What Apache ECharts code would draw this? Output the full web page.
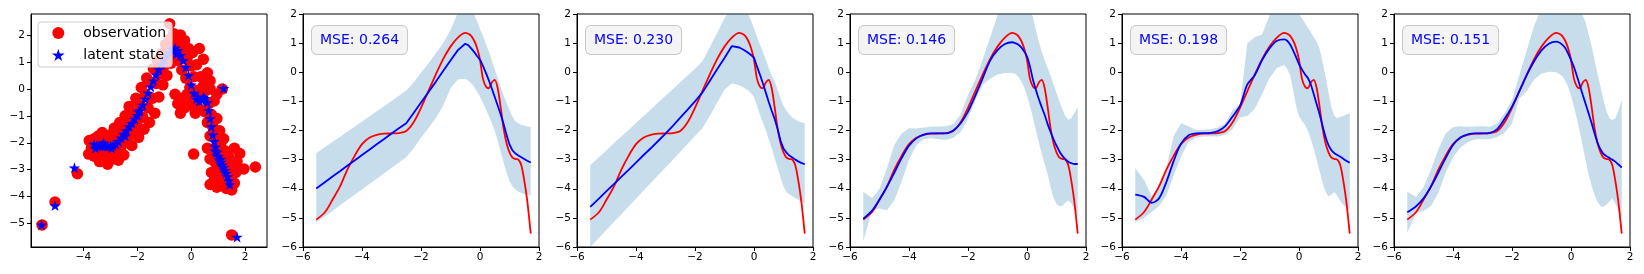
<!DOCTYPE html>
<html><head><meta charset="utf-8">
<script src="https://cdn.jsdelivr.net/npm/echarts@6/dist/echarts.min.js"></script>
<style>html,body{margin:0;padding:0;background:#fff}#c{width:1644px;height:274px}</style>
</head><body><div id="c"></div>
<script>
// ---------- DATA ----------
const xs = [-5.55,-5.25,-5.0,-4.75,-4.5,-4.25,-4.0,-3.75,-3.5,-3.25,-3.0,-2.75,-2.5,-2.25,-2.0,-1.75,-1.5,-1.25,-1.0,-0.75,-0.5,-0.4,-0.3,-0.2,-0.1,0.0,0.1,0.2,0.3,0.4,0.5,0.6,0.7,0.8,0.9,1.0,1.1,1.2,1.3,1.4,1.5,1.6,1.72];
const trueY = [-5.06,-4.80,-4.38,-3.93,-3.35,-2.87,-2.47,-2.25,-2.15,-2.11,-2.10,-2.09,-2.02,-1.72,-1.22,-0.65,-0.08,0.45,0.88,1.19,1.35,1.32,1.25,1.09,0.83,0.43,-0.22,-0.49,-0.55,-0.35,-0.26,-0.55,-1.2,-1.93,-2.44,-2.75,-2.93,-2.98,-3.0,-3.19,-3.71,-4.40,-5.54];

const meanP2 = [-3.99,-3.77,-3.58,-3.40,-3.21,-3.03,-2.84,-2.66,-2.47,-2.29,-2.10,-1.92,-1.75,-1.40,-1.04,-0.69,-0.33,0.04,0.40,0.76,0.98,0.93,0.82,0.70,0.56,0.43,0.22,-0.02,-0.28,-0.56,-0.85,-1.14,-1.44,-1.78,-2.15,-2.48,-2.68,-2.79,-2.86,-2.92,-2.98,-3.04,-3.10];
const upperP2 = [-2.78,-2.57,-2.39,-2.22,-2.04,-1.87,-1.69,-1.52,-1.34,-1.17,-0.99,-0.81,-0.63,-0.35,-0.02,0.30,0.65,1.0,1.45,2.05,2.3,2.25,2.15,2.0,1.75,1.48,1.25,0.98,0.7,0.4,0.1,-0.2,-0.5,-0.8,-1.05,-1.3,-1.53,-1.68,-1.75,-1.8,-1.83,-1.86,-1.88];
const lowerP2 = [-5.16,-4.94,-4.76,-4.57,-4.39,-4.21,-4.03,-3.84,-3.66,-3.47,-3.29,-3.10,-2.92,-2.62,-2.25,-1.92,-1.58,-1.15,-0.55,-0.25,-0.22,-0.28,-0.38,-0.5,-0.66,-0.84,-1.05,-1.28,-1.5,-1.74,-2.0,-2.35,-2.72,-3.1,-3.45,-3.74,-3.92,-4.02,-4.1,-4.15,-4.18,-4.2,-4.22];

const meanP3 = [-4.62,-4.33,-4.08,-3.84,-3.59,-3.35,-3.10,-2.85,-2.61,-2.36,-2.11,-1.84,-1.56,-1.28,-1.0,-0.70,-0.30,0.10,0.49,0.90,0.85,0.80,0.74,0.67,0.59,0.50,0.20,-0.08,-0.38,-0.70,-1.02,-1.32,-1.6,-1.95,-2.35,-2.62,-2.76,-2.86,-2.93,-3.0,-3.06,-3.11,-3.16];
const upperP3 = [-3.19,-2.91,-2.68,-2.44,-2.21,-1.98,-1.74,-1.51,-1.28,-1.04,-0.81,-0.58,-0.34,-0.11,0.12,0.38,0.85,1.35,1.85,2.2,2.3,2.25,2.15,2.0,1.78,1.5,1.22,0.95,0.7,0.45,0.15,-0.1,-0.3,-0.6,-0.9,-1.15,-1.32,-1.45,-1.55,-1.62,-1.68,-1.72,-1.75];
const lowerP3 = [-6.0,-5.68,-5.41,-5.14,-4.88,-4.61,-4.34,-4.07,-3.80,-3.54,-3.27,-3.0,-2.73,-2.46,-2.19,-1.92,-1.5,-1.05,-0.6,-0.38,-0.45,-0.5,-0.56,-0.62,-0.72,-0.85,-1.15,-1.45,-1.72,-1.98,-2.3,-2.6,-2.95,-3.28,-3.62,-3.92,-4.1,-4.2,-4.26,-4.32,-4.38,-4.44,-4.51];

const meanP4 = [-5.03,-4.75,-4.37,-3.94,-3.45,-2.95,-2.52,-2.27,-2.14,-2.1,-2.1,-2.1,-2.0,-1.75,-1.35,-0.8,-0.2,0.4,0.76,0.97,1.03,1.0,0.95,0.86,0.72,0.54,0.2,-0.25,-0.6,-0.92,-1.2,-1.47,-1.78,-2.05,-2.3,-2.52,-2.72,-2.87,-2.98,-3.07,-3.12,-3.15,-3.15];
const upperP4 = [-4.1,-4.32,-4.0,-3.3,-2.5,-2.1,-1.92,-1.93,-1.9,-1.87,-1.86,-1.85,-1.78,-1.45,-0.78,-0.25,0.45,1.2,1.95,2.35,2.4,2.45,2.45,2.45,2.4,2.3,2.15,1.9,1.45,1.05,0.7,0.4,0.15,-0.12,-0.42,-0.72,-1.0,-1.28,-1.5,-1.63,-1.58,-1.42,-1.2];
const lowerP4 = [-5.8,-4.75,-4.68,-4.74,-4.4,-3.75,-3.0,-2.5,-2.3,-2.27,-2.3,-2.33,-2.25,-2.05,-1.6,-0.95,-0.42,-0.22,-0.08,-0.03,-0.03,-0.06,-0.15,-0.3,-0.5,-0.8,-1.15,-1.55,-1.98,-2.4,-2.8,-3.15,-3.5,-3.95,-4.32,-4.52,-4.6,-4.58,-4.48,-4.4,-4.5,-4.7,-4.88];

const meanP5 = [-4.2,-4.28,-4.48,-4.34,-3.78,-3.05,-2.45,-2.17,-2.1,-2.09,-2.08,-2.02,-1.85,-1.52,-1.15,-0.42,-0.1,0.42,0.82,1.08,1.13,1.08,0.95,0.75,0.52,0.28,0.1,-0.07,-0.2,-0.42,-0.75,-1.1,-1.45,-1.85,-2.22,-2.5,-2.68,-2.78,-2.84,-2.9,-2.97,-3.04,-3.11];
const upperP5 = [-3.3,-3.7,-4.25,-3.95,-3.3,-2.2,-1.75,-1.85,-1.98,-1.97,-1.96,-1.9,-1.75,-1.3,-1.12,1.0,1.2,1.3,1.95,2.3,2.5,2.5,2.4,2.25,2.1,2.0,1.85,1.7,1.53,1.38,1.2,1.05,0.8,0.35,-0.15,-0.7,-1.2,-1.5,-1.58,-1.53,-1.5,-1.45,-1.41];
const lowerP5 = [-5.14,-5.0,-4.8,-4.6,-4.25,-3.55,-2.9,-2.4,-2.25,-2.21,-2.21,-2.21,-2.15,-1.95,-1.55,-1.5,-1.25,-0.75,-0.2,0.15,0.25,0.12,-0.1,-0.6,-1.15,-1.5,-1.67,-1.8,-2.0,-2.3,-2.62,-3.0,-3.4,-3.8,-4.1,-4.27,-4.2,-4.11,-4.25,-4.42,-4.55,-4.65,-4.75];

const meanP6 = [-4.81,-4.6,-4.33,-3.93,-3.45,-2.95,-2.5,-2.24,-2.13,-2.1,-2.1,-2.08,-1.95,-1.6,-1.18,-0.65,-0.1,0.38,0.75,0.98,1.05,1.02,0.95,0.84,0.65,0.42,0.18,-0.13,-0.45,-0.78,-1.1,-1.42,-1.75,-2.1,-2.42,-2.65,-2.8,-2.88,-2.94,-3.0,-3.07,-3.16,-3.27];
const upperP6 = [-4.1,-4.28,-3.95,-3.35,-2.65,-2.1,-1.88,-1.85,-1.87,-1.86,-1.85,-1.87,-1.75,-1.4,-0.95,-0.1,0.75,1.6,2.2,2.5,2.6,2.6,2.55,2.5,2.45,2.35,2.25,2.15,2.05,1.95,1.7,1.3,0.89,0.4,-0.05,-0.5,-0.95,-1.32,-1.58,-1.64,-1.58,-1.35,-0.95];
const lowerP6 = [-5.5,-4.83,-4.76,-4.6,-4.15,-3.45,-2.92,-2.58,-2.4,-2.3,-2.3,-2.3,-2.22,-2.08,-1.75,-0.9,-0.65,-0.25,-0.05,0.02,0.0,-0.06,-0.13,-0.28,-0.5,-0.8,-1.18,-1.6,-2.05,-2.55,-3.05,-3.52,-3.9,-4.22,-4.45,-4.6,-4.62,-4.55,-4.45,-4.33,-4.5,-4.75,-5.0];

const mseLabels = ['0.264','0.230','0.146','0.198','0.151'];

const observations = [
 [-5.53,-5.05],[-5.05,-4.2],[-4.22,-3.15],[1.5,-5.42],[2.38,-2.9],[1.95,-2.97],[0.09,-2.42],[1.15,0.0],[-0.8,2.42],
 [-3.78,-1.92],[-3.8,-2.42],[-3.7,-2.2],[-3.6,-1.85],[-3.6,-2.5],[-3.5,-2.15],[-3.45,-1.75],[-3.4,-2.7],[-3.35,-2.35],[-3.3,-1.62],[-3.25,-2.05],[-3.2,-2.55],[-3.15,-1.85],[-3.1,-2.8],[-3.05,-2.3],[-3.0,-1.7],[-2.95,-2.6],[-2.9,-2.0],[-2.85,-1.45],[-2.8,-2.4],[-2.75,-1.8],[-2.7,-2.65],[-2.65,-1.25],[-2.6,-2.15],[-2.55,-1.55],
 [-2.5,-2.45],[-2.45,-1.0],[-2.4,-1.95],[-2.35,-1.3],[-2.3,-0.65],[-2.25,-1.7],[-2.2,-2.1],[-2.15,-0.9],[-2.1,-1.45],[-2.05,-0.35],[-2.0,-1.2],[-1.95,-1.8],[-1.9,-0.6],[-1.85,0.05],[-1.8,-1.05],[-1.75,-1.5],[-1.7,-0.2],[-1.65,0.4],[-1.6,-0.7],[-1.55,-1.25],[-1.5,0.25],[-1.45,-0.35],[-1.4,0.75],[-1.35,-0.9],[-1.3,0.2],[-1.25,1.05],[-1.2,-0.3],[-1.15,0.55],[-1.1,1.3],[-1.05,0.15],[-1.0,0.85],[-0.95,1.65],[-0.9,0.5],[-0.85,1.15],[-0.8,1.85],[-0.75,0.95],
 [-0.7,1.6],[-0.65,2.05],[-0.6,1.2],[-0.55,1.8],[-0.5,1.05],[-0.45,1.55],[-0.4,2.0],[-0.35,0.7],[-0.3,1.35],[-0.25,1.8],[-0.2,0.4],[-0.15,1.15],[-0.1,1.5],[-0.05,0.05],[0.0,0.85],[0.05,1.35],
 [-0.6,-0.2],[-0.5,-0.55],[-0.4,-0.9],[-0.35,-0.35],[-0.25,-0.7],[-0.15,-0.2],[-0.05,-0.6],[0.05,-0.25],[0.15,-0.9],
 [0.1,0.45],[0.15,-0.45],[0.2,0.9],[0.25,-0.05],[0.3,-0.75],[0.35,0.45],[0.4,-0.3],[0.45,0.1],[0.5,-0.85],[0.55,-0.05],[0.6,0.25],[0.6,-1.25],[0.65,-0.55],[0.7,-1.75],[0.7,0.0],[0.75,-0.95],[0.8,-2.25],[0.8,-1.4],[0.85,-0.45],[0.9,-1.85],[0.9,-2.75],[0.95,-1.1],[1.0,-2.3],[1.0,-3.2],[1.05,-1.55],[1.1,-2.0],[1.1,-3.0],[1.15,-2.55],[1.2,-3.45],[1.2,-1.85],[1.25,-2.3],[1.3,-2.8],[1.3,-3.7],[1.35,-3.1],[1.4,-2.55],[1.45,-3.35],[1.5,-3.75],[1.55,-2.95],[1.6,-3.5],[1.65,-3.1],[0.7,-2.6],[0.75,-3.1],[0.7,-3.55],[0.95,-3.65],[0.6,-2.2],[0.85,-3.4],[1.8,-2.4],[1.7,-2.7],[1.6,-2.2],
 [0.3,1.5],[0.45,1.1],[0.6,0.6],[0.7,0.3],[0.95,-0.2]
];
const latentStates = [
 [-5.55,-5.05],[-5.05,-4.33],[-4.33,-2.93],[1.2,0.02],[1.7,-5.5],
 [-3.6,-2.05],[-3.5,-2.1],[-3.4,-2.1],[-3.3,-2.12],[-3.2,-2.13],[-3.1,-2.12],[-3.0,-2.12],[-2.9,-2.1],[-2.8,-2.05],[-2.7,-1.95],[-2.6,-1.82],[-2.5,-1.68],[-2.4,-1.55],[-2.3,-1.4],[-2.2,-1.28],[-2.1,-1.12],[-2.0,-0.98],[-1.9,-0.8],[-1.8,-0.6],[-1.7,-0.38],[-1.6,-0.15],[-1.5,0.08],[-1.4,0.3],[-1.3,0.52],[-1.2,0.72],[-1.1,0.92],[-1.0,1.1],[-0.9,1.25],[-0.8,1.38],[-0.7,1.48],[-0.6,1.52],[-0.5,1.42],[-0.4,1.25],[-0.3,1.05],[-0.2,0.8],[-0.1,0.5],[0.0,0.15],[0.1,-0.15],[0.2,-0.38],[0.3,-0.45],[0.4,-0.42],[0.5,-0.35],[0.6,-0.5],[0.65,-0.8],[0.7,-1.1],[0.75,-1.4],[0.8,-1.7],[0.85,-1.95],[0.9,-2.15],[0.95,-2.35],[1.0,-2.5],[1.05,-2.62],[1.1,-2.72],[1.15,-2.82],[1.2,-2.92],[1.25,-3.02],[1.3,-3.12],[1.35,-3.25],[1.4,-3.4],[1.43,-3.55],
 [-3.55,-2.2],[-3.25,-2.0],[-2.95,-2.2],[-2.45,-1.75],[-1.95,-0.85],[-0.55,1.3],[0.25,-0.3],[0.45,-0.3],[0.9,-2.3],[1.1,-2.6]
];
const xTicks1 = [-4,-2,0,2];
const yTicks1 = [-5,-4,-3,-2,-1,0,1,2];

// ---------- CHART ----------
const FONT = 'DejaVu Sans';
const starPath = 'path://M100,0L122.45,69.1L195.1,69.1L136.33,111.8L158.8,180.9L100,138.2L41.2,180.9L63.67,111.8L4.9,69.1L77.55,69.1Z';
const minus = v => String(v).replace('-', '\u2212');
const lefts = [31, 303, 577, 850, 1122, 1394];
const widths = [236, 236, 236, 236, 236, 236];
const panels = [
  {mean: meanP2, upper: upperP2, lower: lowerP2, smooth: false},
  {mean: meanP3, upper: upperP3, lower: lowerP3, smooth: false},
  {mean: meanP4, upper: upperP4, lower: lowerP4, smooth: 0.3},
  {mean: meanP5, upper: upperP5, lower: lowerP5, smooth: 0.3},
  {mean: meanP6, upper: upperP6, lower: lowerP6, smooth: 0.3}
];

const grids = lefts.map((l, i) => ({left: l, top: 14, width: widths[i], height: 233, show: true, borderColor: '#000', borderWidth: 1, backgroundColor: 'transparent', containLabel: false}));

function axisCommon() {
  return {
    type: 'value', splitLine: {show: false},
    axisLine: {show: true, onZero: false, lineStyle: {color: '#000', width: 1}},
    axisTick: {show: true, length: 4, lineStyle: {color: '#000', width: 1}},
    axisLabel: {color: '#000', fontSize: 10.5, fontFamily: FONT, formatter: minus}
  };
}
const xAxes = [], yAxes = [];
lefts.forEach((l, i) => {
  const xa = axisCommon(), ya = axisCommon();
  xa.gridIndex = i; ya.gridIndex = i;
  xa.axisLabel.margin = 5; ya.axisLabel.margin = 6;
  if (i === 0) {
    xa.min = -5.94; xa.max = 2.81;
    ya.min = -5.87; ya.max = 2.78;
    xa.axisTick.customValues = xTicks1; xa.axisLabel.customValues = xTicks1;
    ya.axisTick.customValues = yTicks1; ya.axisLabel.customValues = yTicks1;
  } else {
    xa.min = -6; xa.max = 2; xa.interval = 2;
    ya.min = -6; ya.max = 2; ya.interval = 1;
  }
  xAxes.push(xa); yAxes.push(ya);
});

const series = [
  {name: 'observation', type: 'scatter', xAxisIndex: 0, yAxisIndex: 0, data: observations, symbol: 'circle', symbolSize: 11.5, itemStyle: {color: '#ff0000', opacity: 1}, z: 2},
  {name: 'latent state', type: 'scatter', xAxisIndex: 0, yAxisIndex: 0, data: latentStates, symbol: starPath, symbolSize: 11.5, symbolKeepAspect: true, itemStyle: {color: '#0000ff', opacity: 1}, z: 3}
];
panels.forEach((p, j) => {
  const i = j + 1;
  series.push({
    type: 'custom', xAxisIndex: i, yAxisIndex: i, clip: true, silent: true, z: 1,
    data: [[0, 0]],
    renderItem: (params, api) => {
      const pts = [];
      xs.forEach((x, k) => pts.push(api.coord([x, p.upper[k]])));
      for (let k = xs.length - 1; k >= 0; k--) pts.push(api.coord([xs[k], p.lower[k]]));
      return {type: 'polygon', shape: {points: pts}, style: {fill: 'rgba(31,119,180,0.25)', stroke: 'none'}};
    }
  });
  series.push({type: 'line', xAxisIndex: i, yAxisIndex: i, data: xs.map((x, k) => [x, trueY[k]]), symbol: 'none', smooth: 0.3, lineStyle: {color: '#ff0000', width: 1.8}, z: 3, clip: true});
  series.push({type: 'line', xAxisIndex: i, yAxisIndex: i, data: xs.map((x, k) => [x, p.mean[k]]), symbol: 'none', smooth: p.smooth, lineStyle: {color: '#0000ff', width: 1.8}, z: 4, clip: true});
});

const graphics = mseLabels.map((m, j) => ({
  type: 'text', left: lefts[j + 1] + 8, top: 25, z: 100,
  style: {text: 'MSE: ' + m, fill: '#0000ff', font: '14px "DejaVu Sans"', lineHeight: 16,
    backgroundColor: '#f4f4f4', borderColor: '#c8c8c8', borderWidth: 1, borderRadius: 5, padding: [6, 8]}
}));

const option = {
  animation: false,
  backgroundColor: '#fff',
  grid: grids, xAxis: xAxes, yAxis: yAxes,
  legend: {
    left: 38, top: 22, orient: 'vertical', selectedMode: false,
    itemWidth: 40, itemHeight: 12, itemGap: 6,
    padding: [3, 6, 4, 14],
    backgroundColor: 'rgba(255,255,255,0.8)', borderColor: '#cccccc', borderWidth: 1, borderRadius: 3,
    textStyle: {fontSize: 14, fontFamily: FONT, color: '#000', lineHeight: 16},
    data: [{name: 'observation', icon: 'circle'}, {name: 'latent state', icon: starPath}]
  },
  graphic: graphics,
  series: series
};
const chart = echarts.init(document.getElementById('c'));
chart.setOption(option);
</script>
</body></html>
